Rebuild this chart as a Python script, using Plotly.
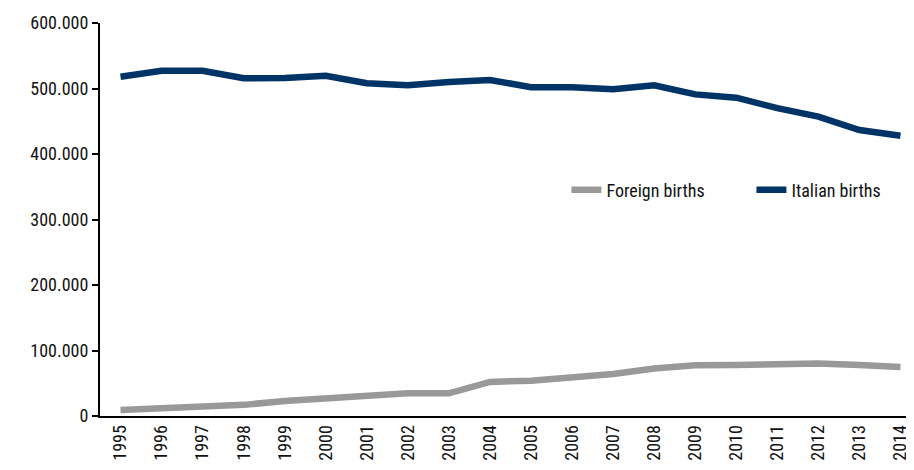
import plotly.graph_objects as go

years = [str(y) for y in range(1995, 2015)]
foreign_births = [9000, 11700, 14000, 17000, 23000, 27000, 32000, 34600, 34600, 52000,
                  54000, 58500, 64000, 72500, 77500, 78000, 80000, 80000, 77700, 75000]
italian_births = [518000, 527000, 527000, 515600, 516000, 519500, 508000, 505000, 510000, 513000,
                  502000, 502000, 499000, 505000, 491000, 486000, 470000, 457000, 436600, 428000]
y_ticks = [0, 100000, 200000, 300000, 400000, 500000, 600000]
y_tick_labels = ["0", "100.000", "200.000", "300.000", "400.000", "500.000", "600.000"]

FONT = "Roboto Condensed, Liberation Sans Narrow, Arial Narrow, sans-serif"

fig = go.Figure()
fig.add_trace(go.Scatter(x=years, y=foreign_births, mode="lines", name="Foreign births",
                         line=dict(color="#999999", width=6.5)))
fig.add_trace(go.Scatter(x=years, y=italian_births, mode="lines", name="Italian births",
                         line=dict(color="#003366", width=6.5)))

fig.update_layout(
    width=914, height=470,
    margin=dict(l=92, r=8, t=15, b=62, autoexpand=False),
    paper_bgcolor="white", plot_bgcolor="white",
    font=dict(family=FONT, size=18, color="#111111"),
    showlegend=True,
    legend=dict(orientation="h", x=0.573, y=0.575, xanchor="left", yanchor="middle",
                font=dict(size=18), entrywidth=140, entrywidthmode="pixels",
                bgcolor="rgba(0,0,0,0)"),
    xaxis=dict(type="category", range=[-0.5, 19.33], showline=True, linecolor="black",
               linewidth=2, ticks="", tickangle=-90, showgrid=False, zeroline=False,
               tickfont=dict(size=18), automargin=False),
    yaxis=dict(range=[0, 600000], tickvals=y_ticks, ticktext=y_tick_labels, showline=True,
               linecolor="black", linewidth=2, ticks="outside", ticklen=6, tickwidth=1.5,
               tickcolor="black", showgrid=False, zeroline=False, tickfont=dict(size=18),
               automargin=False),
)

fig.write_html("out.html")
